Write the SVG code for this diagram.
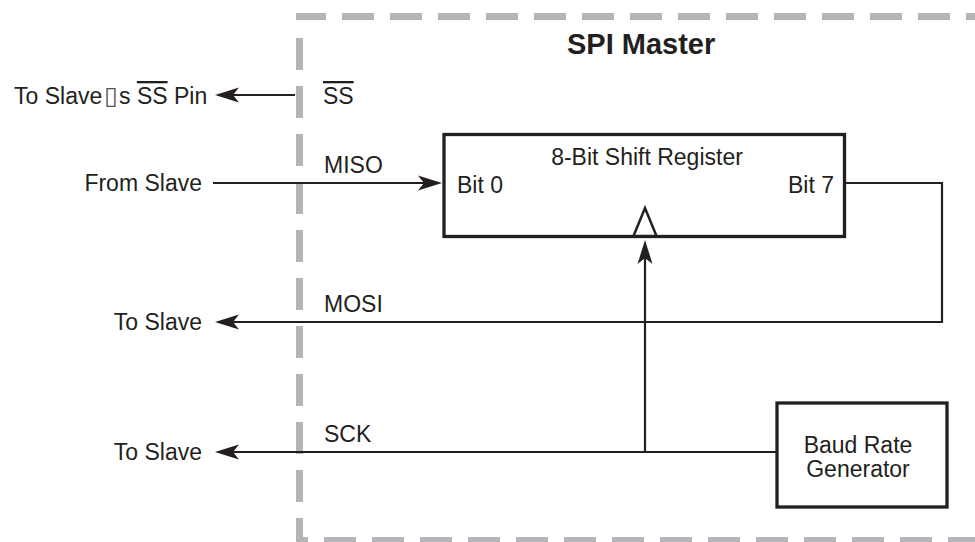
<svg xmlns="http://www.w3.org/2000/svg" width="975" height="542" viewBox="0 0 975 542">
<style>
.t{font-family:"Liberation Sans",Arial,sans-serif;font-size:23px;fill:#231f20}
.b{font-family:"Liberation Sans",Arial,sans-serif;font-size:29px;font-weight:bold;fill:#231f20}
.dash{stroke:#b3b5b8;stroke-width:7;fill:none;stroke-dasharray:32 16}
.w{stroke:#231f20;stroke-width:2.2;fill:none}
.box{stroke:#231f20;stroke-width:3.3;fill:#fff}
</style>
<defs>
<marker id="ah" markerUnits="userSpaceOnUse" markerWidth="30" markerHeight="20" viewBox="-16 -10 30 20" refX="0" refY="0" orient="auto">
<path d="M10,0 L-14,-7.5 L-8,0 L-14,7.5 Z" fill="#231f20"/>
</marker>
</defs>
<rect width="975" height="542" fill="#fff"/>
<g id="boundary">
<line class="dash" x1="296" y1="16.5" x2="975" y2="16.5" stroke-dashoffset="2"/>
<line class="dash" x1="299.5" y1="38" x2="299.5" y2="545"/>
<line class="dash" x1="296" y1="540.5" x2="975" y2="540.5" stroke-dashoffset="20"/>
<text class="b" x="567" y="54">SPI Master</text>
</g>
<g id="connectors">
<line class="w" x1="295" y1="95" x2="225" y2="95" marker-end="url(#ah)"/>
<line class="w" x1="213" y1="183" x2="432" y2="183" marker-end="url(#ah)"/>
<polyline class="w" points="845,183 942,183 942,322 225,322" marker-end="url(#ah)"/>
<line class="w" x1="777" y1="452" x2="225" y2="452" marker-end="url(#ah)"/>
<line class="w" x1="645" y1="452" x2="645" y2="250" marker-end="url(#ah)"/>
</g>
<g id="labels">
<text class="t" x="14" y="104">To Slave<tspan dx="2" font-family="DejaVu Sans" font-size="25" fill="#555">▯</tspan><tspan dx="1">s </tspan><tspan style="text-decoration:overline">SS</tspan> Pin</text>
<text class="t" x="323" y="104" style="text-decoration:overline">SS</text>
<text class="t" x="202" y="191" text-anchor="end">From Slave</text>
<text class="t" x="324" y="173">MISO</text>
<text class="t" x="202" y="330" text-anchor="end">To Slave</text>
<text class="t" x="324" y="312">MOSI</text>
<text class="t" x="202" y="460" text-anchor="end">To Slave</text>
<text class="t" x="324" y="442">SCK</text>
</g>
<g id="shift-register">
<rect class="box" x="444" y="134.5" width="400.5" height="102"/>
<polygon points="633.5,236 645,208 656.5,236" fill="#fff" stroke="#231f20" stroke-width="2.5" stroke-linejoin="miter"/>
<text class="t" x="647" y="165" text-anchor="middle">8-Bit Shift Register</text>
<text class="t" x="457" y="193">Bit 0</text>
<text class="t" x="834" y="193" text-anchor="end">Bit 7</text>
</g>
<g id="baud-rate-generator">
<rect class="box" x="777" y="403" width="170" height="104"/>
<text class="t" x="858" y="453" text-anchor="middle">Baud Rate</text>
<text class="t" x="858" y="477" text-anchor="middle">Generator</text>
</g>
</svg>
